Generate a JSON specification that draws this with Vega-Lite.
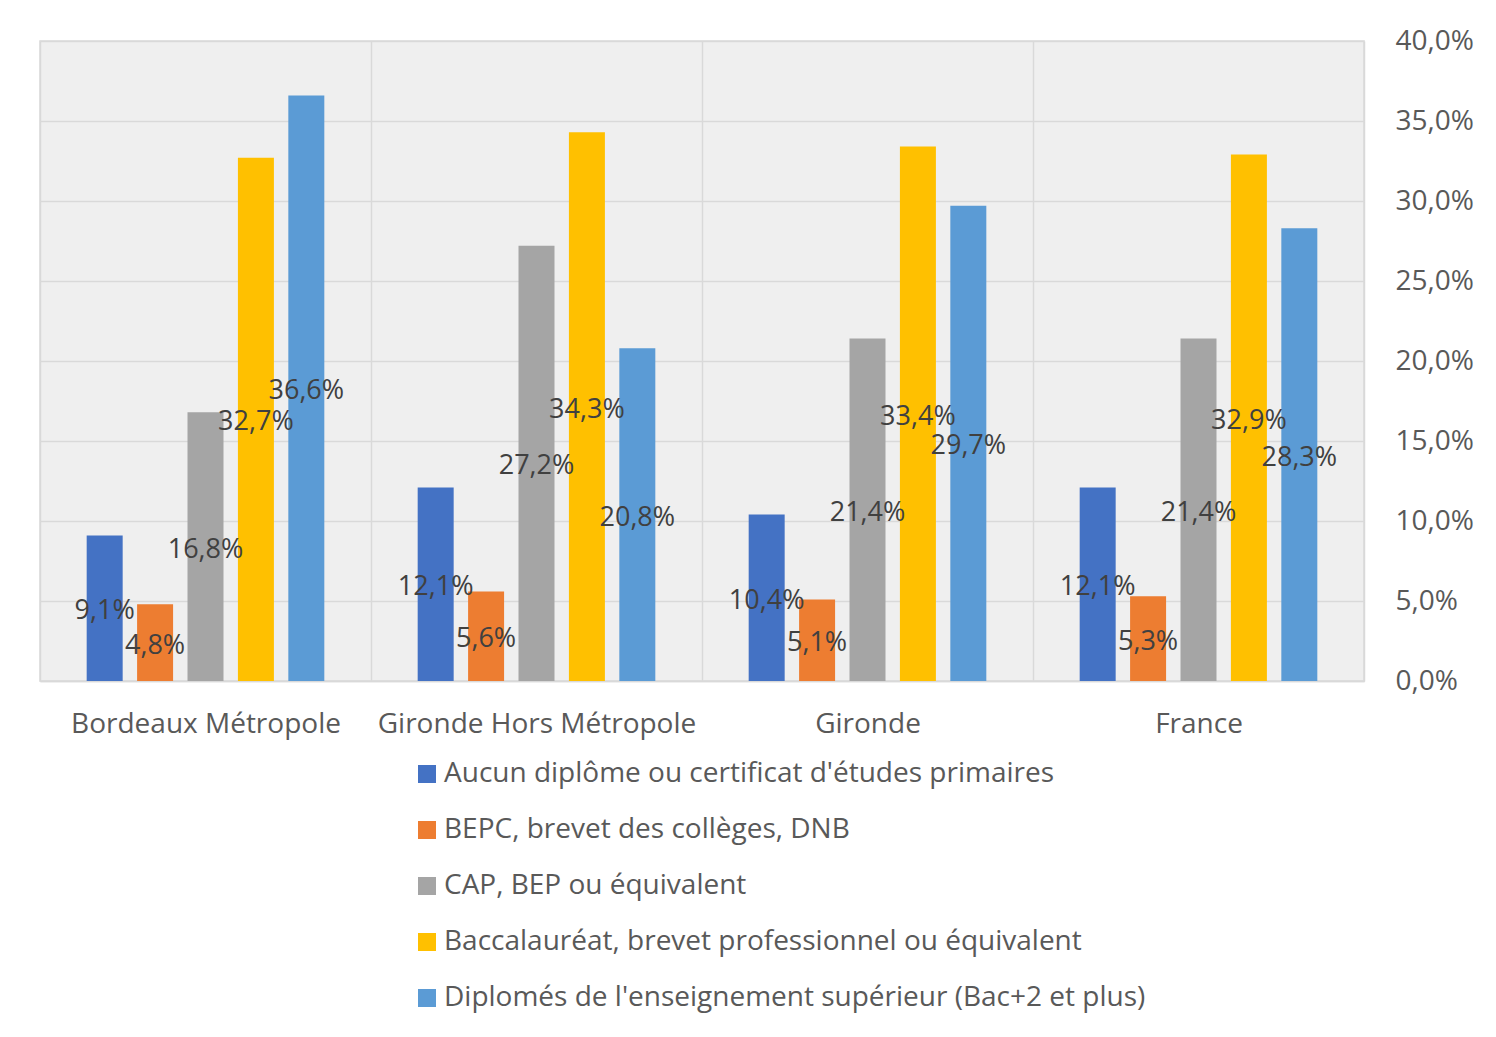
{
  "$schema": "https://vega.github.io/schema/vega-lite/v6.json",
  "width": 1324,
  "height": 640,
  "padding": {"left": 40, "top": 41, "right": 132, "bottom": 356},
  "autosize": {"type": "none"},
  "background": "#ffffff",
  "config": {
    "font": "Open Sans",
    "locale": {"number": {"decimal": ",", "thousands": " ", "grouping": [3], "currency": ["", " €"]}},
    "view": {"fill": "#efefef", "stroke": "#d9d9d9", "strokeWidth": 1.5}
  },
  "data": {
    "values": [
      {"zone": "Bordeaux Métropole", "diplome": "Aucun diplôme ou certificat d'études primaires", "part": 0.091},
      {"zone": "Bordeaux Métropole", "diplome": "BEPC, brevet des collèges, DNB", "part": 0.048},
      {"zone": "Bordeaux Métropole", "diplome": "CAP, BEP ou équivalent", "part": 0.168},
      {"zone": "Bordeaux Métropole", "diplome": "Baccalauréat, brevet professionnel ou équivalent", "part": 0.327},
      {"zone": "Bordeaux Métropole", "diplome": "Diplomés de l'enseignement supérieur (Bac+2 et plus)", "part": 0.366},
      {"zone": "Gironde Hors Métropole", "diplome": "Aucun diplôme ou certificat d'études primaires", "part": 0.121},
      {"zone": "Gironde Hors Métropole", "diplome": "BEPC, brevet des collèges, DNB", "part": 0.056},
      {"zone": "Gironde Hors Métropole", "diplome": "CAP, BEP ou équivalent", "part": 0.272},
      {"zone": "Gironde Hors Métropole", "diplome": "Baccalauréat, brevet professionnel ou équivalent", "part": 0.343},
      {"zone": "Gironde Hors Métropole", "diplome": "Diplomés de l'enseignement supérieur (Bac+2 et plus)", "part": 0.208},
      {"zone": "Gironde", "diplome": "Aucun diplôme ou certificat d'études primaires", "part": 0.104},
      {"zone": "Gironde", "diplome": "BEPC, brevet des collèges, DNB", "part": 0.051},
      {"zone": "Gironde", "diplome": "CAP, BEP ou équivalent", "part": 0.214},
      {"zone": "Gironde", "diplome": "Baccalauréat, brevet professionnel ou équivalent", "part": 0.334},
      {"zone": "Gironde", "diplome": "Diplomés de l'enseignement supérieur (Bac+2 et plus)", "part": 0.297},
      {"zone": "France", "diplome": "Aucun diplôme ou certificat d'études primaires", "part": 0.121},
      {"zone": "France", "diplome": "BEPC, brevet des collèges, DNB", "part": 0.053},
      {"zone": "France", "diplome": "CAP, BEP ou équivalent", "part": 0.214},
      {"zone": "France", "diplome": "Baccalauréat, brevet professionnel ou équivalent", "part": 0.329},
      {"zone": "France", "diplome": "Diplomés de l'enseignement supérieur (Bac+2 et plus)", "part": 0.283}
    ]
  },
  "encoding": {
    "x": {
      "field": "zone",
      "type": "nominal",
      "sort": ["Bordeaux Métropole", "Gironde Hors Métropole", "Gironde", "France"],
      "scale": {"paddingInner": 0, "paddingOuter": 0},
      "axis": {
        "title": null,
        "labelAngle": 0,
        "labelFont": "Open Sans",
        "labelFontSize": 28,
        "labelColor": "#595959",
        "labelPadding": 29,
        "labelLimit": 1000,
        "ticks": false,
        "tickBand": "extent",
        "grid": true,
        "gridColor": "#d9d9d9",
        "gridWidth": 1.5,
        "domainColor": "#d9d9d9",
        "domainWidth": 1.5
      }
    },
    "xOffset": {
      "field": "diplome",
      "type": "nominal",
      "sort": [
        "Aucun diplôme ou certificat d'études primaires",
        "BEPC, brevet des collèges, DNB",
        "CAP, BEP ou équivalent",
        "Baccalauréat, brevet professionnel ou équivalent",
        "Diplomés de l'enseignement supérieur (Bac+2 et plus)"
      ],
      "scale": {"paddingInner": 0.286, "paddingOuter": 0.926}
    }
  },
  "layer": [
    {
      "mark": {"type": "bar"},
      "encoding": {
        "y": {
          "field": "part",
          "type": "quantitative",
          "scale": {"domain": [0, 0.4], "nice": false},
          "axis": {
            "orient": "right",
            "title": null,
            "format": ".1%",
            "values": [0, 0.05, 0.1, 0.15, 0.2, 0.25, 0.3, 0.35, 0.4],
            "labelFont": "Open Sans",
            "labelFontSize": 28,
            "labelColor": "#595959",
            "labelPadding": 31,
            "ticks": false,
            "domain": false,
            "grid": true,
            "gridColor": "#d9d9d9",
            "gridWidth": 1.5
          }
        },
        "color": {
          "field": "diplome",
          "type": "nominal",
          "sort": [
            "Aucun diplôme ou certificat d'études primaires",
            "BEPC, brevet des collèges, DNB",
            "CAP, BEP ou équivalent",
            "Baccalauréat, brevet professionnel ou équivalent",
            "Diplomés de l'enseignement supérieur (Bac+2 et plus)"
          ],
          "scale": {"range": ["#4472C4", "#ED7D31", "#A5A5A5", "#FFC000", "#5B9BD5"]},
          "legend": {
            "title": null,
            "orient": "none",
            "direction": "vertical",
            "legendX": 373,
            "legendY": 719,
            "padding": 0,
            "symbolType": "square",
            "symbolSize": 324,
            "symbolStrokeWidth": 0,
            "labelFont": "Open Sans",
            "labelFontSize": 28,
            "labelColor": "#595959",
            "labelOffset": 3,
            "labelLimit": 1000,
            "rowPadding": 28
          }
        }
      }
    },
    {
      "mark": {"type": "text", "font": "Open Sans", "fontSize": 27, "color": "#404040", "align": "center", "baseline": "middle", "dy": 3},
      "encoding": {
        "y": {
          "field": "part",
          "type": "quantitative",
          "scale": {"domain": [0, 0.8], "nice": false},
          "axis": null
        },
        "text": {"field": "part", "type": "quantitative", "format": ".1%"}
      }
    }
  ],
  "resolve": {"scale": {"y": "independent"}}
}
